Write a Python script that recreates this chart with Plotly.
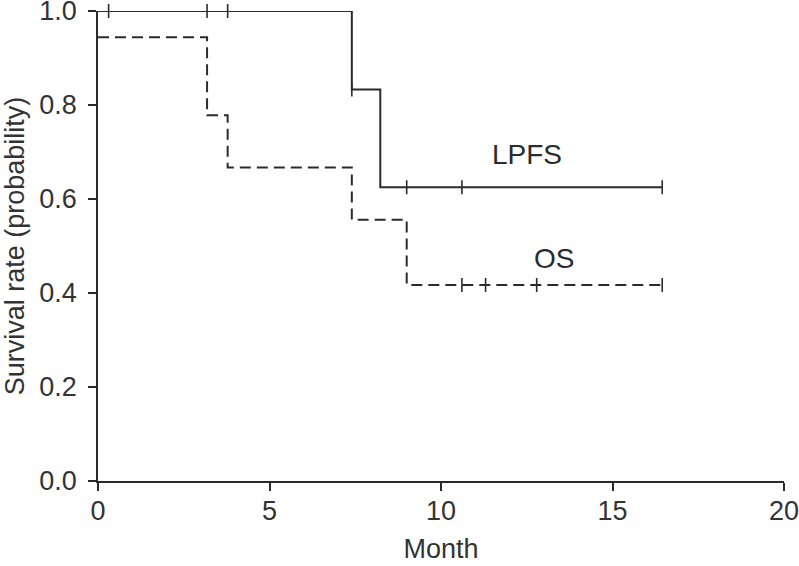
import plotly.graph_objects as go

INK = "#2b2b2b"
TXT = "#333333"
FONT = "Liberation Sans, Arial, sans-serif"
FS = 27

# Kaplan-Meier steps (month, survival probability)
lpfs_time = [0, 7.40, 8.23, 16.45]
lpfs_surv = [1.0, 0.833, 0.625, 0.625]
lpfs_cens_time = [0.31, 3.18, 3.78, 7.40, 9.00, 10.61, 16.45]
lpfs_cens_surv = [1.0, 1.0, 1.0, 0.833, 0.625, 0.625, 0.625]

os_time = [0, 3.18, 3.78, 7.40, 9.00, 16.45]
os_surv = [0.944, 0.778, 0.667, 0.556, 0.417, 0.417]
os_cens_time = [10.61, 11.30, 12.79, 16.45]
os_cens_surv = [0.417, 0.417, 0.417, 0.417]

labels = ["LPFS", "OS"]
label_x = [12.5, 13.3]
label_y = [0.695, 0.474]

fig = go.Figure()
fig.add_scatter(x=lpfs_time, y=lpfs_surv, mode="lines", line_shape="hv",
                line=dict(color=INK, width=2), cliponaxis=False, showlegend=False)
fig.add_scatter(x=os_time, y=os_surv, mode="lines", line_shape="hv",
                line=dict(color=INK, width=2, dash="11px,6px"), cliponaxis=False, showlegend=False)
fig.add_scatter(x=lpfs_cens_time, y=lpfs_cens_surv, mode="markers", cliponaxis=False, showlegend=False,
                marker=dict(symbol="line-ns", size=10, line=dict(color=INK, width=1.6)))
fig.add_scatter(x=os_cens_time, y=os_cens_surv, mode="markers", cliponaxis=False, showlegend=False,
                marker=dict(symbol="line-ns", size=10, line=dict(color=INK, width=1.6)))

for t, x, y in zip(labels, label_x, label_y):
    fig.add_annotation(x=x, y=y, text=t, showarrow=False, font=dict(size=28, color=INK, family=FONT))

axis = dict(showline=True, linecolor=INK, linewidth=1.6, ticks="outside", ticklen=8,
            tickwidth=1.6, tickcolor=INK, showgrid=False, zeroline=False, automargin=False,
            ticklabeloverflow="allow", tickfont=dict(size=FS, color=TXT, family=FONT))
fig.update_xaxes(range=[0, 20], tickvals=[0, 5, 10, 15, 20], ticklabelstandoff=-3,
                 title=dict(text="Month", font=dict(size=FS, color=TXT, family=FONT), standoff=14), **axis)
fig.update_yaxes(range=[0, 1], tickvals=[0, 0.2, 0.4, 0.6, 0.8, 1.0], tickformat=".1f", ticklabelstandoff=6,
                 title=dict(text="Survival rate (probability)", font=dict(size=FS, color=TXT, family=FONT),
                            standoff=12), **axis)
fig.update_layout(width=799, height=566, plot_bgcolor="white", paper_bgcolor="white",
                  margin=dict(l=98, r=15, t=11, b=85))
fig.write_html("out.html", config={"displayModeBar": False},
               post_script="document.body.style.margin='0';")
